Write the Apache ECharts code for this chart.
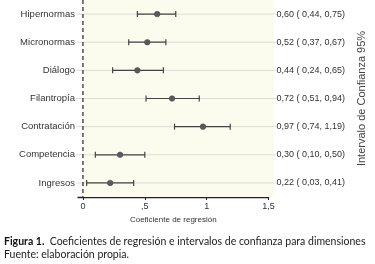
<!DOCTYPE html>
<html>
<head>
<meta charset="utf-8">
<script src="https://cdn.jsdelivr.net/npm/echarts@6/dist/echarts.min.js"></script>
<style>
  html, body { margin: 0; padding: 0; background: #fff; }
  #chart { width: 375px; height: 264px; }
</style>
</head>
<body>
<div id="chart"></div>
<script>
// dimensiones, de arriba a abajo
var dimensiones = ['Hipernormas', 'Micronormas', 'Diálogo', 'Filantropía', 'Contratación', 'Competencia', 'Ingresos'];
var coeficiente = [0.60, 0.52, 0.44, 0.72, 0.97, 0.30, 0.22];
var limInf = [0.44, 0.37, 0.24, 0.51, 0.74, 0.10, 0.03];
var limSup = [0.75, 0.67, 0.65, 0.94, 1.19, 0.50, 0.41];
var ticksX = [0, 0.5, 1, 1.5];
var ticksXLabel = ['0', ',5', '1', '1,5'];

function coma(v) { return v.toFixed(2).replace('.', ','); }

var etiquetasDer = dimensiones.map(function (d, i) {
  return coma(coeficiente[i]) + ' ( ' + coma(limInf[i]) + ', ' + coma(limSup[i]) + ')';
});

var datos = dimensiones.map(function (d, i) {
  return [i, coeficiente[i], limInf[i], limSup[i]];
});

var chart = echarts.init(document.getElementById('chart'));
var fuente = 'Liberation Sans';
var xMin = -0.04, xMax = 1.5;

var option = {
  animation: false,
  grid: { left: 78, top: 0, width: 195, height: 197 },
  xAxis: {
    type: 'value',
    min: xMin,
    max: xMax,
    name: 'Coeficiente de regresión',
    nameLocation: 'middle',
    nameGap: 16,
    nameTextStyle: { fontFamily: fuente, fontSize: 8, color: '#333' },
    axisLine: { show: true, lineStyle: { color: '#222', width: 1.3 } },
    axisTick: { show: true, length: 3, customValues: ticksX, lineStyle: { color: '#222' } },
    axisLabel: {
      customValues: ticksX,
      fontFamily: fuente, fontSize: 9, color: '#333', margin: 5,
      formatter: function (v) {
        var k = ticksX.indexOf(v);
        return k >= 0 ? ticksXLabel[k] : '';
      }
    },
    splitLine: { show: false }
  },
  yAxis: [{
    type: 'category',
    data: dimensiones,
    inverse: true,
    axisLine: { show: false },
    axisTick: { show: false },
    axisLabel: { fontFamily: fuente, fontSize: 9.5, color: '#333', margin: 3 },
    splitLine: { show: false }
  }, {
    type: 'category',
    position: 'right',
    data: etiquetasDer,
    inverse: true,
    axisLine: { show: false },
    axisTick: { show: false },
    axisLabel: { fontFamily: fuente, fontSize: 9, color: '#333', margin: 8 },
    name: 'Intervalo de Confianza 95%',
    nameLocation: 'middle',
    nameRotate: 90,
    nameGap: 87,
    nameTextStyle: { fontFamily: fuente, fontSize: 11, color: '#444' }
  }],
  series: [{
    // fondo y lineas de guia
    type: 'custom',
    clip: false,
    silent: true,
    z: 1,
    data: [[0]],
    renderItem: function (params, api) {
      var p0 = api.coord([0, 0]);
      var p1 = api.coord([1.54, dimensiones.length - 1]);
      var cs = params.coordSys;
      var kids = [{
        type: 'rect',
        shape: { x: p0[0], y: cs.y, width: p1[0] - p0[0], height: cs.height },
        style: { fill: '#fcfcee' }
      }];
      for (var i = 0; i < dimensiones.length; i++) {
        var a = api.coord([-0.055, i]);
        var b = api.coord([1.565, i]);
        kids.push({
          type: 'line',
          shape: { x1: a[0], y1: a[1], x2: b[0], y2: b[1] },
          style: { stroke: '#dddcd2', lineWidth: 1 }
        });
      }
      kids.push({
        type: 'line',
        shape: { x1: p0[0], y1: cs.y, x2: p0[0], y2: cs.y + cs.height },
        style: { stroke: '#222', lineWidth: 1.2, lineDash: [4, 3] }
      });
      return { type: 'group', children: kids };
    }
  }, {
    // intervalos y coeficientes
    type: 'custom',
    z: 5,
    data: datos,
    encode: { x: [1, 2, 3], y: 0 },
    renderItem: function (params, api) {
      var i = api.value(0);
      var c = api.coord([api.value(1), i]);
      var l = api.coord([api.value(2), i]);
      var h = api.coord([api.value(3), i]);
      var cap = 3;
      var st = { stroke: '#444', lineWidth: 1.2 };
      return {
        type: 'group',
        children: [
          { type: 'line', shape: { x1: l[0], y1: l[1], x2: h[0], y2: h[1] }, style: st },
          { type: 'line', shape: { x1: l[0], y1: l[1] - cap, x2: l[0], y2: l[1] + cap }, style: st },
          { type: 'line', shape: { x1: h[0], y1: h[1] - cap, x2: h[0], y2: h[1] + cap }, style: st },
          { type: 'circle', shape: { cx: c[0], cy: c[1], r: 2.8 }, style: { fill: '#5a5a5a', stroke: '#444', lineWidth: 0.5 } }
        ]
      };
    }
  }],
  graphic: [{
    type: 'text',
    left: 4,
    top: 236,
    style: {
      text: '{b|Figura 1.}  Coeficientes de regresión e intervalos de confianza para dimensiones',
      font: '10.5px Lato',
      fill: '#222',
      rich: { b: { fontWeight: 'bold', fontFamily: 'Lato', fontSize: 10.5, fill: '#111' } }
    }
  }, {
    type: 'text',
    left: 4,
    top: 249,
    style: { text: 'Fuente: elaboración propia.', font: '10.5px Lato', fill: '#222' }
  }]
};

chart.setOption(option);
</script>
</body>
</html>
